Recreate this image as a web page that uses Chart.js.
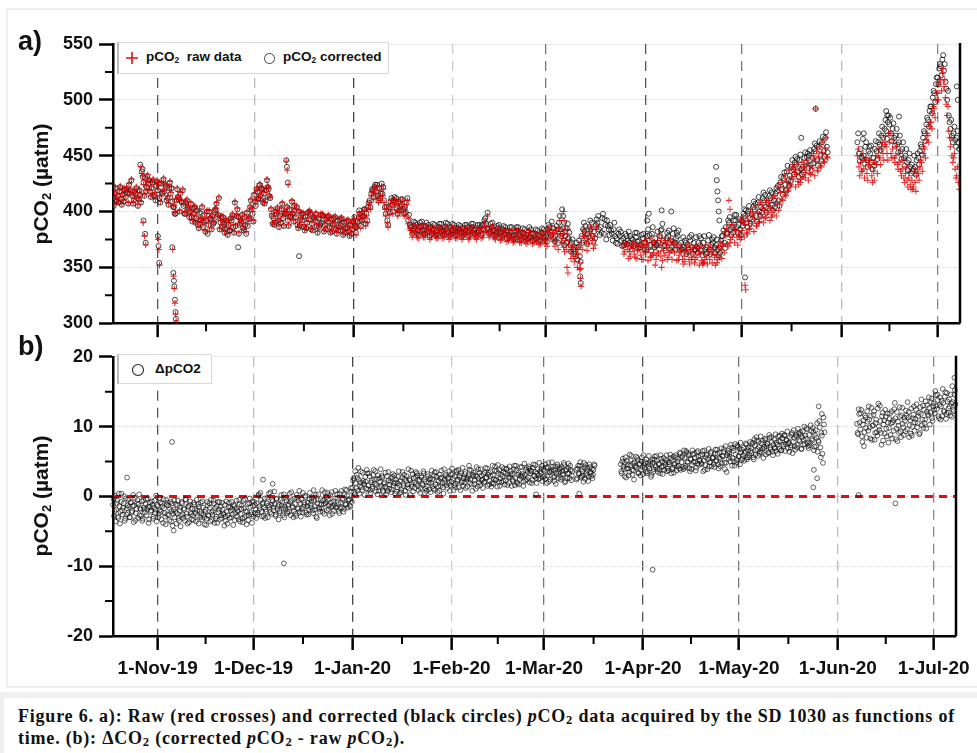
<!DOCTYPE html>
<html>
<head>
<meta charset="utf-8">
<script src="https://cdn.jsdelivr.net/npm/chart.js@4.4.0/dist/chart.umd.min.js"></script>
<style>
  body { margin: 0; width: 977px; height: 753px; overflow: hidden; position: relative; background: #fff;
         font-family: "Liberation Sans", Arial, sans-serif; }
  .frame { position: absolute; left: 6px; top: 8px; width: 975px; height: 680px; border: 2px solid #eeeeee; box-sizing: border-box; }
  .cv { position: absolute; left: 0; }
  #chartA { top: 0; }
  #chartB { top: 340px; }
  .ylab { position: absolute; width: 220px; height: 26px; text-align: center; font-weight: bold; font-size: 21px;
          line-height: 26px; transform: rotate(-90deg); color: #111; }
  .ylab sub, .leg sub { font-size: 0.62em; vertical-align: -0.25em; }
  .plab { position: absolute; font-weight: bold; font-size: 27px; line-height: 27px; color: #111; }
  .leg { position: absolute; background: #fff; border: 1px solid #d8d8d8; border-left: 2px solid #bbb; box-sizing: border-box;
         font-weight: bold; font-size: 13.5px; color: #111; }
  .leg span, .leg svg { position: absolute; }
  .caption { position: absolute; left: 0; top: 692px; width: 977px; height: 61px; background: #fff;
             border-top: 6px solid #f0f0f0; border-left: 4px solid #eeeeee; box-sizing: border-box;
             font-family: "Liberation Serif", "Times New Roman", serif; font-weight: bold; font-size: 18px;
             letter-spacing: 0.79px; line-height: 22px; color: #111; padding: 7px 0 0 14px; white-space: nowrap; }
  .caption sub { font-size: 0.7em; vertical-align: -0.15em; line-height: 0; }
</style>
</head>
<body>
<div class="frame"></div>
<canvas id="chartA" class="cv" width="977" height="340"></canvas>
<canvas id="chartB" class="cv" width="977" height="352"></canvas>

<div class="plab" style="left:18px;top:28px">a)</div>
<div class="plab" style="left:18px;top:333px">b)</div>
<div class="ylab" style="left:-69px;top:171px">pCO<sub>2</sub> (µatm)</div>
<div class="ylab" style="left:-69px;top:483px">pCO<sub>2</sub> (µatm)</div>

<div class="leg" style="left:117px;top:42px;width:272px;height:32px">
  <svg style="left:6px;top:8px" width="14" height="14"><path d="M7 1V13M1 7H13" stroke="#e01010" stroke-width="1.6"/></svg>
  <span style="left:27px;top:6px">pCO<sub>2</sub>&nbsp; raw data</span>
  <svg style="left:144px;top:9px" width="13" height="13"><circle cx="6.5" cy="6.5" r="5" fill="none" stroke="#444" stroke-width="1"/></svg>
  <span style="left:164px;top:6px">pCO<sub>2</sub> corrected</span>
</div>
<div class="leg" style="left:117px;top:354px;width:95px;height:30px">
  <svg style="left:12px;top:8px" width="14" height="14"><circle cx="7" cy="7" r="5.5" fill="none" stroke="#222" stroke-width="1.1"/></svg>
  <span style="left:36px;top:6px">ΔpCO2</span>
</div>

<div class="caption">Figure 6. a): Raw (red crosses) and corrected (black circles) <i>p</i>CO<sub>2</sub> data acquired by the SD 1030 as functions of<br>time. (b): ΔCO<sub>2</sub> (corrected <i>p</i>CO<sub>2</sub> - raw <i>p</i>CO<sub>2</sub>).</div>

<script>
// x values are days counted from 1 Nov 2019
const xMin = -14;
const xMax = 250;
const monthDays = [0, 30, 61, 92, 121, 152, 182, 213, 243];
const monthLabels = ["1-Nov-19", "1-Dec-19", "1-Jan-20", "1-Feb-20", "1-Mar-20", "1-Apr-20", "1-May-20", "1-Jun-20", "1-Jul-20"];
const midMonthDays = [15, 45.5, 76.5, 106.5, 136.5, 167, 197.5, 228];
const monthGridColors = ["#555", "#bbb", "#444", "#ccc", "#777", "#555", "#777", "#bbb", "#888"];

// a) corrected pCO2, two readings a day, from day -14 to 208
const corrA1 = [
  412,416, 409,414, 418,411, 415,420, 413,417,   // -14
  424,419, 414,410, 416,412, 411,415, 436,426,   // -9
  430,422, 425,418, 421,428, 415,423, 419,412,   // -4
  425,416, 418,422, 412,421, 416,409, 404,398,   // 1
  420,411, 416,408, 405,398, 410,402, 400,395,   // 6
  398,404, 394,388, 399,392, 386,397, 392,380,   // 11
  400,393, 396,390, 402,395, 412,390, 386,389,   // 16
  384,390, 388,383, 392,386, 408,396, 395,388,   // 21
  390,385, 395,380, 387,394, 410,398, 415,405,   // 26
  418,412, 414,420, 416,410, 428,420, 412,396,   // 31
  394,390, 398,392, 396,402, 394,399, 398,392,   // 36
  402,396, 398,405, 395,388, 400,393, 392,386,   // 41
  396,390, 393,398, 389,395, 392,387, 394,388,   // 46
  390,396, 388,393, 391,386, 393,388, 389,384,   // 51
  392,386, 388,383, 390,385, 386,382, 388,384,   // 56
  390,386, 386,394, 398,392, 396,402, 398,404,   // 61
  410,416, 419,422, 418,414, 421,416, 416,410,   // 66
  398,392, 404,409, 406,410, 408,403, 409,404,   // 71
  406,402, 404,408, 392,388, 386,383, 385,388,   // 76
  383,386, 387,383, 384,387, 382,385, 386,383,   // 81
  384,381, 383,386, 385,382, 383,386, 384,381,   // 86
  386,383, 383,385, 382,385, 384,381, 385,382,   // 91
  383,386, 382,384, 386,383, 384,381, 383,386,   // 96
  388,384, 394,385, 384,382, 386,383, 383,381,   // 101
  385,382, 381,384, 380,383, 382,379, 381,378,   // 106
  379,382, 383,380, 378,381, 380,377, 379,382,   // 111
  377,380, 380,378, 376,379, 378,381, 380,377,   // 116
  378,384, 386,379, 382,376, 378,384, 390,384,   // 121
  380,374, 378,385, 376,370, 372,366, 364,372,   // 126
  368,360, 378,384, 382,376, 380,386, 384,378,   // 131
  382,388, 390,384, 386,394, 380,388, 392,384,   // 136
  388,380, 384,378, 376,380, 378,374, 376,372,   // 141
  378,374, 372,376, 375,371, 377,373, 374,370,   // 146
  376,372, 372,378, 374,370, 380,372, 376,370,   // 151
  372,378, 384,374, 370,376, 378,372, 374,380,   // 156
  372,376, 378,370, 372,366, 368,372, 370,366,   // 161
  374,368, 372,366, 368,372, 370,365, 372,366,   // 166
  368,374, 366,370, 372,368, 370,366, 368,374,   // 171
  378,372, 386,380, 390,384, 386,392, 392,386,   // 176
  388,384, 392,398, 396,390, 400,394, 398,404,   // 181
  402,396, 408,400, 404,412, 410,404, 408,414,   // 186
  412,406, 410,416, 418,410, 426,420, 430,424,   // 191
  436,428, 432,440, 438,444, 442,436, 446,438,   // 196
  440,448, 444,452, 450,442, 448,456, 454,446,   // 201
  458,450, 462,454, 466,458                      // 206
];
// a) corrected pCO2, the readings in between, from day -14 to 208
const corrA1b = [
  405,421, 410,408, 422,406, 409,419, 420,407,   // -14
  416,428, 407,418, 421,405, 419,408, 431,414,   // -9
  418,432, 428,413, 426,414, 410,427, 425,408,   // -4
  417,429, 424,410, 406,426, 421,404, 398,410,   // 1
  413,400, 409,419, 398,408, 404,395, 407,391,   // 6
  403,390, 401,385, 393,404, 391,382, 400,388,   // 11
  394,384, 389,401, 407,397, 384,395, 395,381,   // 16
  392,379, 383,394, 397,381, 387,402, 380,392,   // 21
  397,383, 388,399, 393,404, 402,391, 409,420,   // 26
  411,424, 421,408, 407,419, 422,414, 402,389,   // 31
  388,400, 403,386, 390,407, 387,398, 404,387,   // 36
  395,409, 391,401, 404,385, 387,398, 398,383,   // 41
  385,399, 400,384, 383,394, 398,381, 386,397,   // 46
  397,382, 384,395, 396,381, 382,394, 395,380,   // 51
  383,393, 394,379, 381,391, 392,378, 380,391,   // 56
  395,381, 391,401, 387,396, 402,389, 392,408,   // 61
  404,420, 413,424, 424,410, 412,425, 422,404,   // 66
  404,388, 399,412, 400,413, 412,398, 401,411,   // 71
  411,398, 399,412, 397,386, 380,391, 390,380,   // 76
  379,390, 391,380, 380,390, 388,378, 380,389,   // 81
  388,379, 379,389, 389,379, 380,390, 389,378,   // 86
  380,389, 388,379, 379,388, 387,378, 380,388,   // 91
  388,378, 379,389, 389,380, 378,388, 388,379,   // 96
  380,392, 389,399, 380,389, 390,379, 378,387,   // 101
  388,377, 378,387, 386,376, 377,386, 386,375,   // 106
  376,386, 386,375, 375,385, 384,374, 376,386,   // 111
  384,374, 375,384, 383,373, 374,385, 384,374,   // 116
  373,388, 381,391, 385,373, 387,372, 396,378,   // 121
  385,370, 372,389, 381,364, 375,362, 368,357,   // 126
  374,355, 372,390, 387,371, 377,392, 390,373,   // 131
  376,393, 396,379, 381,398, 393,375, 387,379,   // 136
  383,374, 390,372, 371,384, 382,369, 370,380,   // 141
  371,382, 378,366, 369,381, 381,367, 368,379,   // 146
  380,366, 366,384, 379,365, 386,368, 370,382,   // 151
  366,383, 389,369, 365,381, 383,366, 368,385,   // 156
  366,381, 383,365, 366,377, 374,362, 364,377,   // 161
  379,362, 366,377, 363,378, 376,361, 378,362,   // 166
  363,379, 362,375, 377,363, 375,361, 363,378,   // 171
  383,367, 381,392, 395,379, 381,397, 397,381,   // 176
  393,379, 387,402, 401,386, 405,389, 393,409,   // 181
  407,391, 413,396, 399,417, 415,399, 403,419,   // 186
  417,401, 404,421, 423,405, 431,415, 435,419,   // 191
  441,423, 427,446, 433,449, 447,431, 451,433,   // 196
  435,453, 449,439, 455,437, 443,461, 459,441,   // 201
  463,445, 467,449, 471,453                      // 206
];
// a) corrected pCO2 after the June gap, from day 218
const corrA2 = [
  462,452, 456,448, 450,458, 446,454, 452,444,
  448,456, 454,462, 460,468, 466,474, 472,480,
  478,470, 474,466, 468,460, 462,454, 456,448,
  450,444, 446,440, 442,438, 440,446, 448,454,
  458,466, 470,478, 482,490, 494,502, 506,514,
  520,528, 530,536, 526,516, 500,486, 474,468,
  470,464, 466,462
];
const corrA2b = [
  470,445, 449,465, 443,462, 440,458, 459,438,
  441,463, 447,470, 455,476, 460,482, 465,486,
  484,463, 479,459, 474,453, 468,447, 462,441,
  456,437, 452,434, 436,450, 433,452, 442,460,
  451,472, 463,484, 476,494, 488,508, 498,520,
  514,532, 522,540, 532,510, 508,480, 482,462,
  476,458, 472,456
];
const corrOutliers = [
  [-5.5, 442], [-4.8, 438], [-4.5, 392], [-4, 380], [-3.8, 372], [0, 378], [0.2, 369], [0.4, 354],
  [4.5, 368], [4.8, 345], [5, 338], [5.1, 333], [5.3, 321], [5.5, 310], [5.6, 304], [25, 368],
  [40, 446], [40.2, 440], [40.5, 426], [44, 360], [126, 402], [126.3, 396], [126.6, 390],
  [131.6, 342], [131.8, 336], [152.5, 392], [153, 398], [157, 401], [160, 400], [174, 440],
  [174.2, 428], [174.4, 418], [174.6, 410], [174.8, 400], [175, 392], [183, 341], [200.5, 466],
  [205, 492], [220, 470], [227, 490], [227.3, 486], [231, 485], [249, 512], [249.3, 500]
];

// a) raw pCO2, two readings a day, from day -14 to 136
const rawA1 = [
  413,417, 411,415, 419,413, 416,421, 414,418,   // -14
  425,420, 416,412, 417,413, 412,416, 434,424,   // -9
  428,423, 426,419, 422,429, 417,424, 420,414,   // -4
  426,418, 419,424, 414,422, 417,411, 406,400,   // 1
  421,412, 417,410, 407,400, 411,404, 401,397,   // 6
  399,405, 396,390, 400,394, 388,398, 394,382,   // 11
  401,395, 397,391, 403,396, 413,392, 388,391,   // 16
  386,392, 390,385, 393,388, 409,397, 396,390,   // 21
  392,387, 396,382, 389,395, 411,400, 416,407,   // 26
  419,413, 415,421, 417,411, 429,421, 413,398,   // 31
  396,392, 399,393, 398,403, 396,400, 399,394,   // 36
  403,397, 399,406, 396,390, 401,394, 393,388,   // 41
  397,391, 394,399, 390,396, 393,388, 395,389,   // 46
  391,397, 389,394, 392,387, 394,389, 390,385,   // 51
  393,387, 389,384, 391,386, 387,383, 389,385,   // 56
  390,386, 386,394, 397,391, 395,401, 396,402,   // 61
  408,414, 417,420, 416,412, 419,414, 414,408,   // 66
  396,390, 402,407, 404,408, 406,401, 407,402,   // 71
  404,400, 402,406, 389,385, 383,380, 382,385,   // 76
  380,383, 384,380, 381,384, 379,382, 383,380,   // 81
  381,378, 380,383, 382,379, 380,383, 381,378,   // 86
  383,380, 380,382, 379,382, 381,378, 382,379,   // 91
  380,383, 379,381, 383,380, 381,378, 380,383,   // 96
  385,381, 391,382, 381,379, 383,380, 380,378,   // 101
  382,379, 378,381, 377,380, 379,376, 378,375,   // 106
  376,379, 380,377, 375,378, 377,374, 376,379,   // 111
  374,377, 377,375, 373,376, 375,378, 377,374,   // 116
  375,381, 383,376, 379,373, 375,380, 385,380,   // 121
  376,368, 374,380, 370,364, 366,360, 358,366,   // 126
  362,354, 372,378, 378,372, 376,382, 380,374,   // 131
  378,384                                        // 136
];
const rawA1b = [
  406,422, 411,409, 423,407, 410,420, 421,408,   // -14
  417,429, 408,419, 422,406, 420,409, 432,415,   // -9
  419,433, 429,414, 427,415, 411,428, 426,409,   // -4
  418,430, 425,411, 407,427, 422,405, 399,411,   // 1
  414,401, 410,420, 399,409, 405,396, 408,392,   // 6
  404,391, 402,386, 394,405, 392,383, 401,389,   // 11
  395,385, 390,402, 408,398, 385,396, 396,382,   // 16
  393,380, 384,395, 398,382, 388,403, 381,393,   // 21
  398,384, 389,400, 394,405, 403,392, 410,421,   // 26
  412,425, 422,409, 408,420, 423,415, 403,390,   // 31
  389,401, 404,387, 391,408, 388,399, 405,388,   // 36
  396,410, 392,402, 405,386, 388,399, 399,384,   // 41
  386,400, 401,385, 384,395, 399,382, 387,398,   // 46
  398,383, 385,396, 397,382, 383,395, 396,381,   // 51
  384,394, 395,380, 382,392, 393,379, 381,392,   // 56
  393,379, 389,399, 385,394, 400,387, 390,406,   // 61
  402,418, 411,422, 422,408, 410,423, 420,402,   // 66
  402,386, 397,410, 398,411, 410,396, 399,409,   // 71
  409,396, 397,410, 394,383, 377,388, 387,377,   // 76
  376,387, 388,377, 377,387, 385,375, 377,386,   // 81
  385,376, 376,386, 386,376, 377,387, 386,375,   // 86
  377,386, 385,376, 376,385, 384,375, 377,385,   // 91
  385,375, 376,386, 386,377, 375,385, 385,376,   // 96
  377,389, 386,396, 377,386, 387,376, 375,384,   // 101
  385,374, 375,384, 383,373, 374,383, 383,372,   // 106
  373,383, 383,372, 372,382, 381,371, 373,383,   // 111
  381,371, 372,381, 380,370, 371,382, 381,371,   // 116
  369,384, 377,387, 381,369, 383,366, 392,372,   // 121
  380,364, 366,384, 375,358, 369,355, 362,350,   // 126
  368,349, 366,384, 381,365, 371,386, 384,367,   // 131
  370,387                                        // 136
];
// a) raw pCO2, from day 145 to 208
const rawA2 = [
  368,364, 371,366, 364,369, 367,362, 370,365,
  366,361, 369,364, 363,370, 366,360, 372,363,
  368,361, 363,370, 376,365, 361,368, 370,363,
  365,372, 363,368, 370,361, 364,357, 360,365,
  362,357, 366,359, 363,357, 359,364, 362,356,
  364,357, 359,366, 357,362, 364,359, 361,357,
  359,366, 369,363, 378,371, 382,375, 377,384,
  384,377, 379,375, 383,390, 388,381, 391,385,
  389,396, 393,387, 399,391, 395,403, 401,395,
  399,405, 403,397, 401,407, 409,401, 417,411,
  421,415, 427,419, 423,431, 429,435, 433,427,
  437,429, 431,439, 435,443, 441,433, 439,447,
  445,437, 449,441, 453,445, 457,449
];
const rawA2b = [
  362,372, 369,358, 360,371, 372,359, 358,369,
  371,357, 357,374, 370,356, 376,359, 361,373,
  357,374, 379,360, 356,372, 374,357, 359,375,
  357,371, 373,356, 357,368, 365,353, 355,368,
  370,353, 357,368, 354,369, 367,352, 369,353,
  354,370, 353,366, 368,354, 366,352, 354,369,
  373,358, 371,382, 385,369, 372,388, 388,372,
  383,370, 378,393, 392,377, 396,380, 384,400,
  398,382, 404,387, 390,408, 406,390, 394,410,
  408,392, 395,412, 414,396, 422,406, 426,410,
  432,414, 418,437, 424,440, 438,422, 442,424,
  426,444, 440,430, 446,428, 434,452, 450,432,
  454,436, 458,440, 462,444, 466,448
];
// a) raw pCO2 after the June gap, from day 218
const rawA3 = [
  450,440, 444,436, 438,446, 434,442, 440,432,
  436,444, 442,450, 448,456, 452,460, 458,446,
  462,452, 456,448, 450,442, 444,436, 438,430,
  434,428, 430,424, 428,422, 426,432, 434,440,
  444,452, 456,464, 468,476, 480,488, 492,500,
  506,514, 518,524, 512,502, 486,472, 458,450,
  448,438, 432,426
];
const rawA3b = [
  456,432, 436,452, 430,448, 428,446, 446,426,
  428,450, 434,456, 442,462, 446,468, 452,470,
  470,448, 464,444, 458,438, 452,432, 446,426,
  440,422, 436,420, 420,436, 418,438, 428,446,
  436,458, 448,470, 462,480, 474,494, 484,506,
  500,518, 508,528, 518,496, 494,466, 466,444,
  452,430, 440,420
];
const rawOutliers = [
  [-5.3, 440], [-4.6, 390], [-4.2, 378], [-3.8, 370], [0.1, 375], [0.3, 366], [0.5, 352],
  [4.6, 366], [4.9, 342], [5.1, 331], [5.3, 318], [5.5, 308], [5.7, 302], [40, 445], [40.3, 437],
  [40.6, 424], [126.4, 400], [126.6, 392], [126.8, 384], [127.5, 350], [127.8, 345], [131.5, 348],
  [131.7, 340], [131.9, 333], [155, 352], [157, 350], [170, 354], [178, 410], [178.3, 402],
  [183, 334], [183.2, 330], [205, 492]
];

// b) delta pCO2, three readings a day, from day -14 to 129
const deltaB1 = [
  -1.2,-2.8,0.1, -1.9,-0.6,-3.1, -1.4,-2.2,0.4, -2.6,-1.0,-3.5, -0.3,-1.7,-2.4,   // -14
  -1.5,-3.0,-0.8, -2.1,0.2,-1.3, -3.4,-1.8,-0.5, -1.1,-2.7,-1.9, -0.7,-3.2,-1.6,  // -9
  -2.3,-0.4,-1.8, -1.5,-3.3,-0.9, -2.0,-1.2,-2.9, -0.6,-1.9,-3.6, -1.4,-2.5,-0.2, // -4
  -2.2,-1.0,-3.8, -1.7,-2.9,-0.5, -2.6,-1.3,-3.4, -0.8,-2.1,-4.2, -1.9,-3.0,-1.1, // 1
  -2.4,-0.6,-3.5, -1.6,-2.8,-1.0, -3.1,-1.9,-0.4, -2.5,-3.9,-1.4, -1.2,-2.3,-3.3, // 6
  -2.7,-0.9,-1.8, -3.6,-2.0,-1.1, -1.5,-3.0,-2.4, -0.7,-2.6,-4.0, -1.9,-3.2,-1.3, // 11
  -2.8,-1.6,-0.5, -3.4,-2.1,-1.0, -1.7,-2.9,-3.8, -2.3,-0.8,-1.5, -3.1,-1.9,-2.6, // 16
  -1.2,-3.5,-2.2, -2.7,-0.9,-1.6, -3.0,-1.8,-4.1, -1.4,-2.4,-0.6, -2.0,-3.3,-1.1, // 21
  -2.5,-1.3,-3.7, -1.7,-0.4,-2.8, -2.2,-3.4,-1.0, -1.5,-2.6,-0.7, -2.9,-1.2,-1.9, // 26
  -1.0,-2.3,0.3, -1.8,-0.5,-2.9, -0.9,-1.6,-3.1, -2.2,-0.2,-1.3, -1.5,0.6,-2.5,   // 31
  -0.7,-2.0,-1.1, -2.6,-0.3,-1.4, -1.2,-2.4,0.2, -0.8,-1.7,-3.0, -1.9,-0.6,-2.2,  // 36
  -1.3,0.4,-2.7, -0.5,-1.6,-2.1, -1.1,-2.8,-0.2, -1.8,0.8,-1.0, -0.4,-2.3,-1.5,   // 41
  -1.2,-0.1,-2.6, -0.9,-1.9,0.5, -1.6,-0.3,-2.4, -0.6,-1.4,-2.9, -1.0,0.3,-1.8,   // 46
  -0.4,-1.7,-2.2, -1.1,0.6,-0.8, -2.0,-0.5,-1.3, 0.2,-1.5,-2.5, -0.7,-1.2,0.8,    // 51
  -1.4,-0.2,-2.1, 0.4,-0.9,-1.6, -0.3,-1.8,1.0, -1.1,0.1,-0.6, -0.5,-1.5,0.7,     // 56
  1.2,2.6,0.3, 1.9,3.1,0.8, 2.4,1.5,3.6, 0.9,2.2,1.7, 2.8,1.1,3.3,                // 61
  1.6,2.9,0.5, 2.3,1.4,3.8, 1.8,0.7,2.5, 3.0,1.3,2.1, 1.5,2.7,0.6,                // 66
  2.0,3.4,1.2, 0.8,2.3,1.7, 2.6,1.0,3.2, 1.9,0.4,2.4, 1.3,2.8,1.6,                // 71
  2.2,0.9,3.5, 1.5,2.5,0.2, 2.9,1.7,1.1, 2.3,3.7,1.4, 0.7,2.0,2.8,                // 76
  1.8,3.0,0.9, 2.4,1.2,2.7, 1.6,3.3,0.5, 2.1,1.4,2.9, 1.0,2.6,1.9,                // 81
  2.5,1.1,3.4, 1.7,2.8,0.6, 2.2,3.1,1.5, 2.7,1.3,3.9, 2.0,2.9,1.2,                // 86
  2.6,3.6,1.6, 2.1,3.2,0.9, 2.9,1.8,3.7, 2.4,1.3,3.0, 3.3,2.2,1.5,                // 91
  2.0,3.5,2.7, 1.4,2.9,3.8, 2.5,1.7,3.1, 3.4,2.3,1.1, 2.8,3.9,2.0,                // 96
  1.6,3.0,2.4, 3.2,2.1,4.1, 2.7,1.5,3.4, 2.2,3.6,1.9, 3.0,2.5,4.3,                // 101
  2.4,1.4,3.3, 3.8,2.6,2.0, 2.9,3.5,1.7, 2.3,4.0,3.1, 1.9,2.8,3.6,                // 106
  3.2,2.2,4.4, 2.6,3.7,1.8, 3.4,2.5,3.0, 4.2,2.9,2.1, 3.1,3.8,2.4,                // 111
  2.7,4.0,3.3, 3.6,2.3,4.6, 2.9,3.5,1.9, 3.9,3.0,2.6, 3.3,4.4,2.8,                // 116
  3.7,2.5,4.1, 3.0,4.8,3.4, 2.4,3.6,4.2, 3.8,2.9,1.8, 3.2,4.3,3.5,                // 121
  4.0,2.7,3.6, 3.1,4.5,2.2, 3.9,3.3,4.7, 2.6,3.8,3.0                              // 126
];
// b) delta pCO2, the readings in between, from day -14 to 129
const deltaB1b = [
  -0.4,-2.1,-3.6, -1.0,-2.9,0.4, -3.9,-0.8,-2.0, -1.6,0.0,-3.2, -2.6,-1.3,-0.5,   // -14
  -3.0,-0.9,-2.3, -1.4,-3.7,-0.2, -2.4,-1.0,-3.1, 0.3,-1.7,-2.8, -3.5,-0.6,-1.9,  // -9
  -1.1,-2.7,-0.3, -3.8,-1.5,-2.2, -0.7,-3.2,-1.6, -2.4,0.1,-1.2, -3.0,-2.0,-0.9,  // -4
  -3.3,-1.4,-0.4, -2.4,-4.0,-1.2, -0.9,-2.7,-1.8, -3.6,-1.0,-2.5, -0.6,-2.2,-3.9, // 1
  -1.3,-3.1,-2.0, -4.3,-0.8,-2.6, -1.7,-3.5,-0.5, -2.9,-1.5,-3.7, -0.7,-2.5,-1.8, // 6
  -3.4,-1.2,-2.4, -0.5,-2.8,-3.9, -2.1,-0.9,-3.3, -1.6,-3.0,-2.2, -4.1,-0.8,-2.7, // 11
  -1.0,-3.6,-2.3, -2.6,-0.6,-3.8, -3.2,-1.4,-0.8, -1.9,-3.3,-2.7, -0.9,-2.4,-4.2, // 16
  -2.9,-0.7,-3.9, -1.5,-3.1,-2.0, -0.8,-2.6,-1.2, -3.4,-1.7,-2.9, -2.2,-0.5,-3.6, // 21
  -1.8,-3.2,-0.6, -3.0,-2.1,-4.0, -1.1,-2.7,-0.3, -2.3,-3.8,-1.4, -0.8,-2.4,-3.1, // 26
  -2.6,0.1,-1.4, 0.5,-2.2,-1.1, -2.8,-0.3,-1.9, -1.0,-3.0,0.4, -2.3,-1.2,-0.5,    // 31
  -1.6,0.7,-2.8, -0.4,-1.8,-3.3, -2.1,-0.5,-1.3, -2.7,0.3,-1.5, -0.2,-2.4,-1.1,   // 36
  -2.2,-0.8,0.6, -1.4,-3.0,-0.3, -2.5,0.2,-1.7, -0.6,-2.2,-2.9, -1.8,0.5,-0.9,    // 41
  0.1,-2.3,-1.4, -2.6,-0.4,-1.2, -0.7,-2.0,0.9, -1.9,0.2,-3.1, -0.5,-1.6,-2.2,    // 46
  -1.2,0.9,-0.6, -2.5,-1.0,-0.1, 0.5,-1.8,-2.7, -0.9,0.6,-1.4, -2.1,-0.3,-1.6,    // 51
  0.3,-1.1,-2.4, -1.7,0.8,-0.5, -2.2,0.2,-1.2, 0.9,-1.6,-0.4, -1.3,1.2,-0.8,      // 56
  2.3,0.6,3.6, 1.2,2.7,4.1, 0.4,2.0,1.3, 3.4,1.9,0.2, 2.1,3.8,1.0,                // 61
  3.3,0.9,2.0, 1.1,3.1,2.4, 3.6,1.6,0.3, 0.8,2.6,3.9, 2.9,0.8,1.8,                // 66
  1.4,0.3,2.9, 3.5,1.1,2.1, 0.6,2.8,1.5, 3.0,2.0,0.7, 1.9,3.6,0.5,                // 71
  0.6,2.7,1.8, 3.1,0.8,2.2, 1.3,3.9,2.5, 0.2,1.8,3.2, 2.6,1.2,3.5,                // 76
  3.3,1.5,2.2, 0.5,2.9,1.8, 3.6,2.4,1.1, 0.8,3.2,2.0, 2.4,0.6,3.7,                // 81
  1.5,3.0,0.9, 3.5,2.3,1.4, 0.8,2.6,3.7, 1.9,0.4,2.4, 3.1,1.6,2.7,                // 86
  1.9,0.8,3.2, 4.0,2.5,1.6, 1.3,3.5,2.2, 3.8,2.8,0.9, 2.0,4.1,2.6,                // 91
  3.2,1.2,2.4, 2.6,4.4,1.9, 3.7,0.8,2.9, 1.8,3.0,4.2, 1.4,2.5,3.4,                // 96
  3.9,2.3,1.2, 2.0,3.4,2.7, 4.0,3.1,1.7, 2.9,1.4,4.4, 1.8,3.7,2.3,                // 101
  3.6,4.5,2.1, 1.5,3.1,4.2, 2.2,4.0,3.3, 3.9,1.6,2.7, 4.3,3.2,1.5,                // 106
  2.4,3.9,1.6, 4.4,2.0,3.1, 1.7,4.2,2.8, 3.2,1.5,4.7, 2.3,4.1,3.5,                // 111
  4.3,2.0,3.7, 1.9,4.1,3.0, 4.5,2.6,3.3, 2.5,4.8,3.6, 4.0,2.2,3.9,                // 116
  2.9,4.6,1.9, 4.2,2.1,3.5, 3.8,4.9,2.7, 2.2,4.3,3.4, 4.6,2.6,3.9,                // 121
  2.4,4.2,3.2, 4.8,2.0,3.7, 2.6,4.1,3.3, 4.4,2.3,3.6                              // 126
];
// b) delta pCO2, from day 131 to 136
const deltaB2 = [
  3.8,2.6,4.4, 3.2,4.9,2.9, 3.6,2.1,4.1, 4.5,3.0,3.7, 2.8,4.2,3.4, 3.9,3.1,4.6
];
const deltaB2b = [
  2.4,4.0,3.3, 4.4,2.7,3.9, 3.0,4.8,2.5, 3.3,4.1,2.2, 4.6,3.5,2.9, 2.6,3.8,4.4
];
// b) delta pCO2, from day 145 to 208
const deltaB3 = [
  4.6,3.3,5.4, 3.9,4.8,2.7, 5.1,4.0,3.5, 4.4,5.8,3.1, 3.7,4.9,4.2,
  4.1,5.2,3.4, 4.7,3.8,5.6, 3.2,4.5,4.9, 5.3,3.6,4.3, 4.0,5.0,3.1,
  4.8,3.9,5.7, 4.2,5.1,3.5, 4.6,3.3,5.4, 5.0,4.3,3.8, 4.5,5.9,4.0,
  3.7,4.9,5.5, 5.2,4.1,3.4, 4.7,5.6,4.3, 5.4,4.0,6.1, 4.9,5.8,3.9,
  5.5,4.4,6.3, 4.8,5.9,3.6, 5.3,4.5,6.0, 6.2,5.0,4.1, 4.7,5.7,5.2,
  5.8,4.6,6.5, 5.1,3.8,5.6, 6.0,5.3,4.3, 4.9,6.4,5.5, 5.6,4.2,6.7,
  5.2,6.1,4.0, 6.3,5.4,4.7, 5.7,6.8,3.9, 4.8,5.9,6.5, 6.2,5.0,7.0,
  5.5,6.6,4.4, 6.0,5.2,7.1, 5.8,4.6,6.3, 6.7,5.9,5.1, 6.4,7.4,5.6,
  7.0,5.9,6.5, 6.2,7.7,5.3, 7.3,6.6,8.0, 5.8,7.1,6.4, 7.6,6.8,5.5,
  6.9,8.1,7.2, 7.5,6.3,8.4, 6.7,7.8,5.9, 8.2,7.0,6.5, 7.4,8.6,6.8,
  7.9,6.6,8.3, 7.2,8.8,7.5, 8.0,6.9,7.7, 8.5,7.3,9.1, 7.8,8.4,6.7,
  8.6,7.4,9.0, 7.9,8.9,6.8, 9.3,8.1,7.5, 8.3,9.6,7.2, 8.8,7.7,9.4,
  8.0,9.2,7.1, 9.5,8.4,6.4, 7.8,9.9,5.6, 8.7,4.8,10.3
];
const deltaB3b = [
  3.6,5.0,4.3, 2.9,5.6,4.0, 4.5,3.0,6.0, 5.2,3.8,4.7, 2.4,4.4,5.7,
  5.5,3.3,4.6, 3.0,5.0,4.2, 5.9,4.1,3.5, 3.3,4.8,5.8, 4.6,2.8,5.3,
  3.5,5.3,4.4, 5.8,3.9,4.7, 3.8,5.9,4.2, 3.2,5.5,4.8, 5.2,3.6,4.9,
  4.6,6.0,3.3, 3.9,5.7,4.5, 5.9,3.7,5.0, 4.4,6.3,3.8, 5.6,4.2,6.6,
  4.1,6.5,5.0, 6.1,4.0,5.4, 3.9,6.6,4.9, 5.5,3.7,6.3, 6.5,4.5,5.1,
  4.8,6.0,3.6, 6.6,4.5,5.9, 3.9,6.8,4.9, 6.2,4.3,5.5, 4.6,6.1,5.0,
  6.7,4.6,5.5, 4.3,6.9,5.8, 6.4,4.8,7.2, 3.5,6.2,5.4, 5.7,7.4,4.4,
  6.9,5.0,7.5, 4.8,7.3,5.7, 6.8,7.7,5.2, 5.4,7.0,6.2, 7.6,5.3,6.6,
  5.6,7.8,6.9, 7.5,5.6,8.2, 6.0,8.5,6.8, 7.8,6.1,8.6, 6.3,8.0,7.1,
  8.3,6.0,7.6, 6.2,8.8,7.0, 8.5,6.4,7.4, 6.9,8.9,7.7, 6.1,7.9,8.7,
  6.6,9.0,7.4, 8.7,6.5,8.1, 9.3,7.6,6.4, 7.0,8.8,6.2, 9.5,7.2,8.8,
  7.0,9.7,8.1, 9.2,6.8,8.5, 7.4,10.0,8.7, 9.8,7.6,6.9, 7.3,10.2,8.2,
  9.8,6.6,8.8, 7.2,10.5,8.0, 10.8,7.0,9.1, 6.1,11.3,9.2
];
// b) delta pCO2 after the June gap, from day 219
const deltaB4 = [
  10.4,8.9,11.8, 9.6,12.4,7.8, 10.9,9.2,11.3, 8.4,10.7,12.9, 9.9,11.5,8.1,
  10.2,12.2,9.1, 11.0,8.7,13.3, 9.5,10.8,7.4, 12.0,10.3,9.0, 11.4,8.6,10.6,
  9.8,11.9,10.5, 8.3,10.9,12.5, 11.2,9.7,7.9, 10.1,12.8,9.3, 11.6,10.4,8.8,
  10.8,12.3,9.6, 11.3,8.5,10.9, 12.6,10.0,11.7, 9.4,11.1,13.2, 10.5,12.0,9.1,
  11.8,10.2,13.0, 12.4,11.0,9.7, 13.1,11.6,12.7, 12.0,14.0,10.8, 13.3,11.9,14.5,
  12.5,13.8,11.2, 14.2,12.9,11.5, 13.4,12.1,14.9, 11.8,13.6,12.6, 12.9,14.6,11.4,
  13.5,12.2,15.2
];
const deltaB4b = [
  9.1,12.5,10.6, 11.9,8.6,10.3, 7.2,11.6,9.8, 12.2,9.4,11.0, 8.3,12.7,10.1,
  11.7,8.1,10.5, 9.2,12.6,10.0, 13.0,9.1,11.5, 8.0,10.9,12.4, 9.7,11.9,7.7,
  11.1,8.8,12.2, 10.6,9.4,13.4, 8.2,12.1,10.7, 9.1,11.4,8.5, 12.7,9.9,11.3,
  9.3,11.6,13.5, 12.1,10.2,9.0, 8.7,11.2,12.9, 10.6,12.4,9.9, 11.5,8.9,12.8,
  13.9,11.0,9.8, 10.5,13.6,12.1, 11.8,14.2,10.3, 13.5,11.2,12.9, 12.4,15.1,13.0,
  14.6,11.5,13.1, 11.0,13.7,15.4, 12.3,14.3,11.1, 14.8,12.0,13.9, 11.6,13.3,15.8,
  12.4,14.6,13.2
];
const deltaOutliers = [
  [-9.6, 2.7], [4.5, 7.8], [5, -4.9], [33, 2.4], [36, 1.8], [39.5, -9.6], [118.5, 0.3], [132, 0.4],
  [155, -10.5], [159, 20.7], [205.3, 1.3], [205.5, 3.8], [206.5, 2.6], [207, 12.9], [208, 11.8],
  [219.5, 0.2], [231, -1.0], [249.5, 17.0]
];

// readings are evenly spaced in time: perDay readings per day, starting at startDay
function series(values, startDay, perDay) {
  return values.map((v, i) => ({ x: startDay + i / perDay, y: v }));
}
function pairs(list) {
  return list.map(([x, y]) => ({ x, y }));
}

const corrData = [].concat(
  series(corrA1, -14, 2), series(corrA1b, -13.75, 2),
  series(corrA2, 218, 2), series(corrA2b, 218.25, 2), pairs(corrOutliers));
const rawData = [].concat(
  series(rawA1, -14, 2), series(rawA1b, -13.75, 2),
  series(rawA2, 145, 2), series(rawA2b, 145.25, 2),
  series(rawA3, 218, 2), series(rawA3b, 218.25, 2), pairs(rawOutliers));
const deltaData = [].concat(
  series(deltaB1, -14, 3), series(deltaB1b, -13.83, 3),
  series(deltaB2, 131, 3), series(deltaB2b, 131.17, 3),
  series(deltaB3, 145, 3), series(deltaB3b, 145.17, 3),
  series(deltaB4, 219, 3), series(deltaB4b, 219.17, 3), pairs(deltaOutliers));
const zeroLine = [{ x: xMin, y: 0 }, { x: xMax, y: 0 }];

// right frame line and short minor ticks
const framePlugin = {
  id: "frame",
  afterDraw(chart, args, opts) {
    const { ctx, chartArea: a, scales } = chart;
    ctx.save();
    ctx.strokeStyle = "#000";
    ctx.lineWidth = 2.5;
    ctx.beginPath();
    ctx.moveTo(a.right, a.top - 1);
    ctx.lineTo(a.right, a.bottom);
    ctx.stroke();
    ctx.lineWidth = 2;
    ctx.beginPath();
    opts.xMinor.forEach(v => {
      const x = scales.x.getPixelForValue(v);
      ctx.moveTo(x, a.bottom);
      ctx.lineTo(x, a.bottom + 8);
    });
    opts.yMinor.forEach(v => {
      const y = scales.y.getPixelForValue(v);
      ctx.moveTo(a.left, y);
      ctx.lineTo(a.left - 8, y);
    });
    ctx.stroke();
    ctx.restore();
  }
};

const tickFont = { family: "'Liberation Sans', Arial, sans-serif", size: 18, weight: "bold" };

function xAxis(showLabels, height) {
  return {
    type: "linear",
    min: xMin,
    max: xMax,
    afterBuildTicks: s => { s.ticks = monthDays.map(v => ({ value: v })); },
    afterFit: s => { s.height = height; },
    ticks: {
      display: showLabels,
      autoSkip: false,
      maxRotation: 0,
      padding: 7,
      color: "#111",
      font: { family: "'Liberation Sans', Arial, sans-serif", size: 19, weight: "bold" },
      callback: v => monthLabels[monthDays.indexOf(v)]
    },
    grid: {
      color: c => monthGridColors[c.index] || "#aaa",
      lineWidth: 1.3,
      tickColor: "#000",
      tickWidth: 2.5,
      tickLength: 14
    },
    border: { display: true, color: "#000", width: 2.5, dash: [10, 7] }
  };
}

function yAxis(min, max, step) {
  return {
    min, max,
    ticks: { stepSize: step, padding: 6, color: "#111", font: tickFont },
    afterFit: s => { s.width = 113; },
    grid: { color: "#d4d4d4", lineWidth: 1, tickColor: "#000", tickWidth: 2.5, tickLength: 14 },
    border: { display: true, color: "#000", width: 2.5, dash: [2, 2] }
  };
}

new Chart(document.getElementById("chartA"), {
  type: "scatter",
  data: {
    datasets: [
      {
        label: "pCO2 raw data",
        data: rawData,
        pointStyle: "cross",
        pointRadius: 3.2,
        borderColor: "rgba(220,0,0,0.8)",
        borderWidth: 1.1,
        backgroundColor: "transparent"
      },
      {
        label: "pCO2 corrected",
        data: corrData,
        pointStyle: "circle",
        pointRadius: 2.5,
        borderColor: "rgba(10,10,10,0.85)",
        borderWidth: 0.9,
        backgroundColor: "transparent"
      }
    ]
  },
  options: {
    responsive: false,
    animation: false,
    layout: { padding: { top: 44, right: 17, left: 0, bottom: 0 } },
    plugins: {
      legend: { display: false },
      tooltip: { enabled: false },
      frame: { xMinor: midMonthDays, yMinor: [325, 375, 425, 475, 525] }
    },
    scales: {
      x: xAxis(false, 16),
      y: yAxis(300, 550, 50)
    }
  },
  plugins: [framePlugin]
});

new Chart(document.getElementById("chartB"), {
  type: "scatter",
  data: {
    datasets: [
      {
        label: "ΔpCO2",
        data: deltaData,
        pointStyle: "circle",
        pointRadius: 2.4,
        borderColor: "rgba(10,10,10,0.8)",
        borderWidth: 0.8,
        backgroundColor: "transparent",
        clip: false
      },
      {
        type: "line",
        label: "zero",
        data: zeroLine,
        borderColor: "#e01010",
        borderWidth: 3,
        borderDash: [8, 6],
        pointRadius: 0,
        fill: false
      }
    ]
  },
  options: {
    responsive: false,
    animation: false,
    layout: { padding: { top: 16, right: 17, left: 0, bottom: 0 } },
    plugins: {
      legend: { display: false },
      tooltip: { enabled: false },
      frame: { xMinor: midMonthDays, yMinor: [-15, -5, 5, 15] }
    },
    scales: {
      x: xAxis(true, 56),
      y: yAxis(-20, 20, 10)
    }
  },
  plugins: [framePlugin]
});
</script>
</body>
</html>
